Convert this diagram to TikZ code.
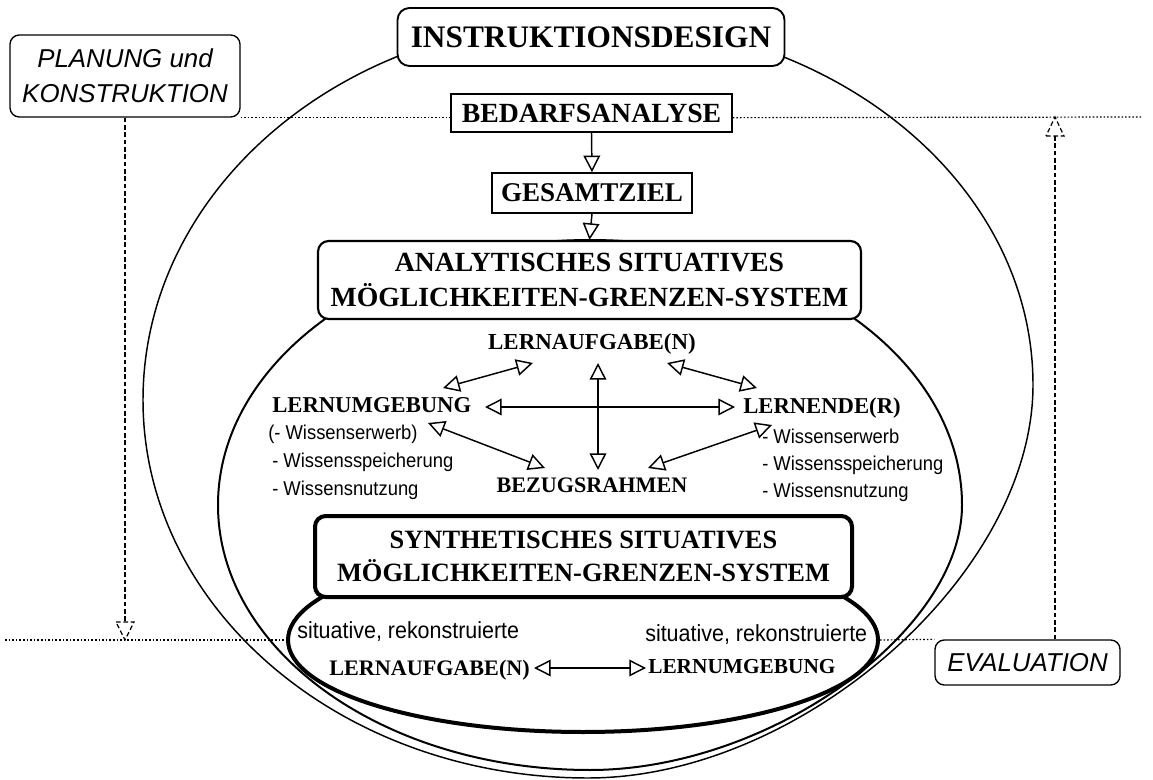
\documentclass[tikz,border=0pt]{standalone}
\usepackage{fontspec}
\setmainfont{Liberation Serif}
\setsansfont{Liberation Sans}
\newfontfamily\narrowsans[FakeStretch=0.92]{Liberation Sans}
\usetikzlibrary{arrows.meta,calc,shapes.geometric}
\begin{document}
\begin{tikzpicture}[x=0.75pt,y=-0.75pt,
  hd/.style={draw, fill=white, inner sep=0pt, align=center, font=\fontsize{20.3}{26.25}\selectfont\bfseries},
  lbl/.style={inner sep=0pt, font=\fontsize{17}{19}\selectfont\bfseries},
  itm/.style={inner sep=0pt, anchor=base west, font=\narrowsans\fontsize{15}{17}\selectfont},
  sit/.style={inner sep=0pt, anchor=base west, font=\narrowsans\fontsize{17.5}{19}\selectfont},
  ital/.style={draw, fill=white, rounded corners=7pt, line width=1pt, inner sep=0pt, align=center, font=\sffamily\itshape\fontsize{19.4}{26.25}\selectfont},
  dub/.style={{Triangle[open,length=12.5pt,width=12.5pt]}-{Triangle[open,length=12.5pt,width=12.5pt]}, line width=1.1pt},
  one/.style={-{Triangle[open,length=12.5pt,width=12.5pt]}, line width=1.1pt},
  dotline/.style={line width=0.9pt, dash pattern=on 1.2pt off 1.5pt},
  dashline/.style={line width=0.9pt, dash pattern=on 3.5pt off 2pt},
]
\useasboundingbox (0,0) rectangle (1153,780);

% big outer oval (bottom right slightly flattened, as drawn)
\draw[line width=1.1pt] (588,20) .. controls (834,20) and (1033,183) .. (1033,385)
  .. controls (1033,575) and (800,778) .. (588,778)
  .. controls (342,778) and (143,609) .. (143,400)
  .. controls (143,190) and (342,20) .. (588,20) -- cycle;
% oval of the analytic system
\draw[line width=1.5pt] (590,240) .. controls (795.5,240) and (962,358.6) .. (962,505)
  .. controls (962,632) and (768.6,770) .. (590,770)
  .. controls (384.5,770) and (218,651.4) .. (218,505)
  .. controls (218,358.6) and (384.5,240) .. (590,240) -- cycle;

% level coordinates
\coordinate (botlev) at (0,640);
\coordinate (botstart) at (5,640);
\coordinate (topend) at (1142,117);
\coordinate (evTip) at (1055,117);

% side labels
\node[ital, minimum width=172.5pt, minimum height=61.5pt] (planung) at (125,76) {PLANUNG und\\KONSTRUKTION};
\node[ital, minimum width=138.75pt, minimum height=33.75pt] (eval) at (1027.5,662.5) {EVALUATION};
\coordinate (plTip) at (planung.south |- botlev);

% thick bottom shape
\node[ellipse, draw, line width=3pt, fill=white, minimum width=442.5pt, minimum height=138pt, inner sep=0pt] (synell) at (583,640) {};

% dotted levels
\node[hd, line width=1.1pt, minimum width=210.75pt, minimum height=28.5pt, font=\fontsize{20.8}{24}\selectfont\bfseries] (bedarf) at (591.5,113) {BEDARFSANALYSE};
\draw[dotline] (botstart) -- (synell.west);
\draw[dotline] (synell.east) -- (eval.north west);
\draw[dotline] (planung.south east) -- (planung.south east -| bedarf.west);
\draw[dotline] (bedarf.east |- planung.south east) -- (topend);

% dashed arrows
\draw[dashline] (planung.south) -- ($(plTip)+(0,-18)$);
\draw[dashline, fill=white] ($(plTip)+(-9,-18)$) -- ($(plTip)+(9,-18)$) -- (plTip) -- cycle;
\draw[dashline] (evTip |- eval.north) -- ($(evTip)+(0,19)$);
\draw[dashline, fill=white] ($(evTip)+(-9,19)$) -- ($(evTip)+(9,19)$) -- (evTip) -- cycle;

% main boxes
\node[hd, rounded corners=9pt, line width=1.4pt, minimum width=290.25pt, minimum height=43.5pt, font=\fontsize{23.5}{28}\selectfont\bfseries] (instr) at (591,37) {INSTRUKTIONSDESIGN};
\node[hd, line width=1.1pt, minimum width=150pt, minimum height=30pt] (gesamt) at (592,193) {GESAMTZIEL};
\node[hd, line width=1.6pt, rounded corners=8pt, minimum width=407.25pt, minimum height=58.5pt, font=\fontsize{20.8}{26.25}\selectfont\bfseries] (analyt) at (589.5,280) {ANALYTISCHES SITUATIVES\\MÖGLICHKEITEN-GRENZEN-SYSTEM};
\node[hd, line width=3pt, rounded corners=8pt, minimum width=402.75pt, minimum height=60.75pt, font=\fontsize{19.8}{24.75}\selectfont\bfseries] (syn) at (583.5,556.5) {SYNTHETISCHES SITUATIVES\\MÖGLICHKEITEN-GRENZEN-SYSTEM};

\draw[one] (bedarf.south) -- (gesamt.north);
\draw[one] (gesamt.south) -- (analyt.north);

% analytic system contents
\node[lbl, anchor=base, font=\fontsize{17.2}{19}\selectfont\bfseries] (la) at (592,350) {LERNAUFGABE(N)};
\node[lbl, anchor=base west] (lu) at (272,412) {LERNUMGEBUNG};
\node[lbl, anchor=base west] (ln) at (743,414) {LERNENDE(R)};
\node[lbl, anchor=base, font=\fontsize{16.6}{19}\selectfont\bfseries] (bz) at (592,492) {BEZUGSRAHMEN};

\node[itm] (lu1) at (268,440) {(- Wissenserwerb)};
\node[itm] (lu2) at (272,467) {- Wissensspeicherung};
\node[itm] (lu3) at (272,495) {- Wissensnutzung};
\node[itm] (ln1) at (762,443) {- Wissenserwerb};
\node[itm] (ln2) at (762,470) {- Wissensspeicherung};
\node[itm] (ln3) at (762,497) {- Wissensnutzung};

\coordinate (a1s) at (443,388); \coordinate (a1e) at (533,363);
\coordinate (a2s) at (667,363); \coordinate (a2e) at (757,388);
\coordinate (a3s) at (485,407); \coordinate (a3e) at (735,407);
\coordinate (a4s) at (598,363); \coordinate (a4e) at (598,470);
\coordinate (a5s) at (428,423); \coordinate (a5e) at (545,468);
\coordinate (a6s) at (772,425); \coordinate (a6e) at (648,468);
\draw[dub] (a1s) -- (a1e);
\draw[dub] (a2s) -- (a2e);
\draw[dub] (a3s) -- (a3e);
\draw[dub] (a4s) -- (a4e);
\draw[dub] (a5s) -- (a5e);
\draw[dub] (a6s) -- (a6e);

% synthetic system contents
\node[sit] (s1) at (297,638) {situative, rekonstruierte};
\node[lbl, anchor=base east, font=\fontsize{16.6}{18}\selectfont\bfseries] (bla) at (530,675) {LERNAUFGABE(N)};
\node[sit] (s2) at (645,641) {situative, rekonstruierte};
\node[lbl, anchor=base west, font=\fontsize{16}{18}\selectfont\bfseries] (blu) at (648,673) {LERNUMGEBUNG};
\coordinate (b1) at (534,668); \coordinate (b2) at (646,668);
\draw[dub] (b1) -- (b2);
\end{tikzpicture}
\end{document}
